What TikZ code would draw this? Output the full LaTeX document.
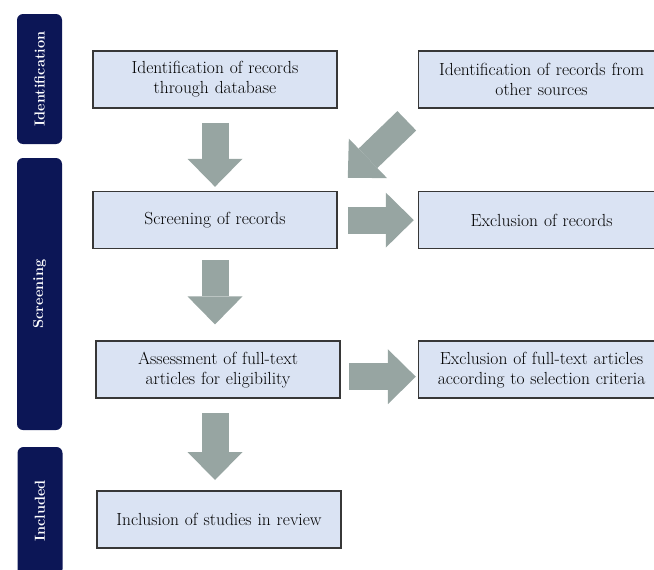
\documentclass[tikz,border=0pt]{standalone}
\usepackage{tikz}
\usetikzlibrary{calc, positioning, arrows.meta}

\definecolor{navy}{RGB}{12,22,86}
\definecolor{boxblue}{RGB}{218,227,243}
\definecolor{boxline}{RGB}{55,55,55}
\definecolor{arrowgray}{RGB}{151,165,162}

\tikzset{
	stage/.style={fill=navy, rounded corners=6pt, minimum width=45pt, text=white,
		font=\fontsize{14.5}{16}\selectfont\bfseries, inner sep=0pt},
	stepbox/.style={draw=boxline, line width=1.6pt, fill=boxblue, minimum width=244pt,
		minimum height=57pt, text width=240pt, align=center, inner sep=0pt,
		font=\fontsize{17.5}{20}\selectfont},
	bigarrow/.style={draw=arrowgray, line width=27pt,
		-{Triangle[length=28pt, width=55pt, line width=0pt]}},
}

\begin{document}
\begin{tikzpicture}[x=1pt, y=-1pt]

		\useasboundingbox (0,0) rectangle (654,570);

		% stage labels on the left %
		\node[stage, minimum height=130pt] (sid) at (39.5,79) {\rotatebox{90}{Identification}};
		\node[stage, minimum height=272pt] (ssc) at (39.5,294) {\rotatebox{90}{Screening}};
		\node[stage, minimum height=128pt] (sin) at (40,511) {\rotatebox{90}{Included}};

		% nodes - main column %
		\node[stepbox] (idb) at (215,79.5) {Identification of records\\through database};
		\node[stepbox, below=82pt of idb] (scr) {Screening of records};
		\node[stepbox, below=91pt of scr, xshift=3pt] (afe) {Assessment of full-text\\articles for eligibility};
		\node[stepbox, below=91pt of afe, xshift=1pt] (inc) {Inclusion of studies in review};

		% nodes - right column %
		\node[stepbox, minimum width=246pt, right=80pt of idb] (ios) {Identification of records from\\other sources};
		\node[stepbox, minimum width=246pt, right=80pt of scr] (exr) {Exclusion of records};
		\node[stepbox, minimum width=246pt, right=77pt of afe] (eft) {Exclusion of full-text articles\\according to selection criteria};

		\coordinate (tail) at ($(ios.south west)+(-11,12)$);
		\coordinate (tip) at ($(scr.north east)+(10,-13)$);

		% edges %
		\draw[bigarrow, shorten <=14pt, shorten >=4pt] (idb.south) -- (scr.north);
		\draw[bigarrow] (tail) -- (tip);
		\draw[bigarrow, shorten <=10pt, shorten >=4pt] (scr.east) -- (exr.west);
		\draw[bigarrow, shorten <=11pt, shorten >=16pt] (scr.south) -- (scr.south |- afe.north);
		\draw[bigarrow, shorten <=8pt, shorten >=2pt] ([yshift=-7pt]afe.east) -- ([yshift=-7pt]eft.west);
		\draw[bigarrow, shorten <=14pt, shorten >=10pt] (afe.south -| scr.south) -- (inc.north -| scr.south);

\end{tikzpicture}
\end{document}
